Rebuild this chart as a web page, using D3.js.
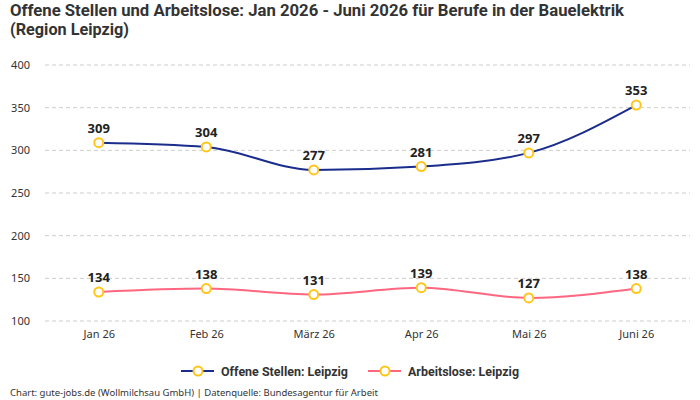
<!DOCTYPE html>
<html lang="de">
<head>
<meta charset="UTF-8"/>
<title>Offene Stellen und Arbeitslose</title>
<script src="https://d3js.org/d3.v7.min.js"></script>
<style>
  body { margin: 0; background: #fff; }
  svg { display: block; }
</style>
</head>
<body>
<div id="chart"></div>
<script>
var months = ["Jan 26", "Feb 26", "März 26", "Apr 26", "Mai 26", "Juni 26"];
var offeneStellen = [309, 304, 277, 281, 297, 353];
var arbeitslose = [134, 138, 131, 139, 127, 138];
var yTicks = [100, 150, 200, 250, 300, 350, 400];
var seriesNames = ["Offene Stellen: Leipzig", "Arbeitslose: Leipzig"];

var w = 700, h = 400;
var condensed = "Roboto, 'DejaVu Sans', sans-serif";
var plain = "'Noto Sans', 'DejaVu Sans', sans-serif";

var svg = d3.select("#chart").append("svg")
    .attr("width", w)
    .attr("height", h);

// title (squeezed to the condensed width of the original)
var title = svg.append("text")
    .attr("font-family", condensed)
    .attr("font-weight", "bold")
    .attr("font-size", "16.5px")
    .attr("fill", "#333");
title.append("tspan").attr("x", 10).attr("y", 16)
    .attr("textLength", 614)
    .attr("lengthAdjust", "spacingAndGlyphs")
    .text("Offene Stellen und Arbeitslose: Jan 2026 - Juni 2026 für Berufe in der Bauelektrik");
title.append("tspan").attr("x", 10).attr("y", 35)
    .attr("textLength", 119)
    .attr("lengthAdjust", "spacingAndGlyphs")
    .text("(Region Leipzig)");

var xScale = d3.scalePoint()
    .domain(months)
    .range([45, 690])
    .padding(0.5);

var yScale = d3.scaleLinear()
    .domain([100, 400])
    .range([321, 65]);

// grid
svg.append("g").selectAll("line")
    .data(yTicks)
    .enter()
    .append("line")
    .attr("x1", 45)
    .attr("x2", 690)
    .attr("y1", function(d) { return yScale(d); })
    .attr("y2", function(d) { return yScale(d); })
    .attr("stroke", "#ccc")
    .attr("stroke-dasharray", "4,3");

// y axis
var yAxis = d3.axisLeft(yScale).tickValues(yTicks).tickSize(0).tickPadding(0);
var yg = svg.append("g")
    .attr("transform", "translate(30,0)")
    .call(yAxis);
yg.select(".domain").remove();
yg.selectAll("text")
    .attr("font-family", plain)
    .attr("font-size", "11px")
    .attr("fill", "#333");

// x axis
var xAxis = d3.axisBottom(xScale).tickSize(0).tickPadding(0);
var xg = svg.append("g")
    .attr("transform", "translate(0,330)")
    .call(xAxis);
xg.select(".domain").remove();
xg.selectAll("text")
    .attr("font-family", plain)
    .attr("font-size", "11px")
    .attr("fill", "#333");

var line = d3.line()
    .x(function(d, i) { return xScale(months[i]); })
    .y(function(d) { return yScale(d); })
    .curve(d3.curveMonotoneX);

var series = [
    { values: offeneStellen, color: "#1a2d8c" },
    { values: arbeitslose, color: "#ff6680" }
];

series.forEach(function(s) {
    svg.append("path")
        .datum(s.values)
        .attr("d", line)
        .attr("fill", "none")
        .attr("stroke", s.color)
        .attr("stroke-width", 2);

    svg.append("g").selectAll("circle")
        .data(s.values)
        .enter()
        .append("circle")
        .attr("cx", function(d, i) { return xScale(months[i]); })
        .attr("cy", function(d) { return yScale(d); })
        .attr("r", 4.5)
        .attr("fill", "#fff")
        .attr("stroke", "#ffc61a")
        .attr("stroke-width", 2);

    svg.append("g").selectAll("text")
        .data(s.values)
        .enter()
        .append("text")
        .attr("x", function(d, i) { return xScale(months[i]); })
        .attr("y", function(d) { return yScale(d) - 10; })
        .attr("text-anchor", "middle")
        .attr("font-family", plain)
        .attr("font-weight", "bold")
        .attr("font-size", "13px")
        .attr("fill", "#222")
        .text(function(d) { return d; });
});

// legend
var legendX = [181, 368];
var legendW = [127, 111];
series.forEach(function(s, i) {
    var g = svg.append("g").attr("transform", "translate(" + legendX[i] + ",371)");
    g.append("line")
        .attr("x1", 0).attr("x2", 33)
        .attr("stroke", s.color)
        .attr("stroke-width", 2);
    g.append("circle")
        .attr("cx", 17).attr("r", 4.5)
        .attr("fill", "#fff")
        .attr("stroke", "#ffc61a")
        .attr("stroke-width", 2);
    g.append("text")
        .attr("x", 40)
        .attr("y", 5)
        .attr("font-family", condensed)
        .attr("font-weight", "bold")
        .attr("font-size", "13.5px")
        .attr("fill", "#333")
        .attr("textLength", legendW[i])
        .attr("lengthAdjust", "spacingAndGlyphs")
        .text(seriesNames[i]);
});

// footer
svg.append("text")
    .attr("x", 10)
    .attr("y", 396)
    .attr("font-family", plain)
    .attr("font-size", "9.5px")
    .attr("fill", "#333")
    .text("Chart: gute-jobs.de (Wollmilchsau GmbH) | Datenquelle: Bundesagentur für Arbeit");
</script>
</body>
</html>
